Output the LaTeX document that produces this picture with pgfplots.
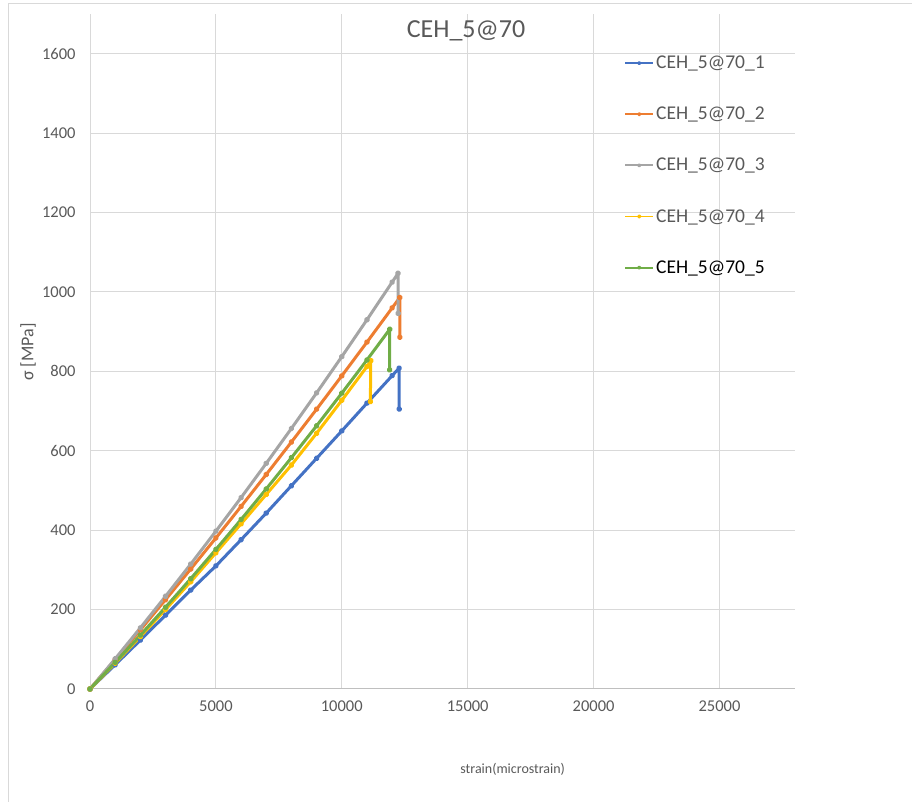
\documentclass[border=0pt]{standalone}
\usepackage{fontspec}
\setmainfont{Carlito}
\usepackage{pgfplots}
\pgfplotsset{compat=1.18}
\definecolor{gridc}{HTML}{D9D9D9}
\definecolor{axc}{HTML}{BFBFBF}
\definecolor{txtc}{HTML}{595959}
\definecolor{s1}{HTML}{4472C4}
\definecolor{s2}{HTML}{ED7D31}
\definecolor{s3}{HTML}{A5A5A5}
\definecolor{s4}{HTML}{FFC000}
\definecolor{s5}{HTML}{70AD47}
\begin{document}
\begin{tikzpicture}
\draw[gridc, line width=1bp] (8bp,0) -- (8bp,798bp) -- (912bp,798bp);
\begin{axis}[
  at={(90bp,113bp)}, anchor=south west,
  scale only axis, width=705bp, height=675bp,
  xmin=0, xmax=28000, ymin=0, ymax=1700,
  xtick={0,5000,10000,15000,20000,25000},
  ytick={0,200,400,600,800,1000,1200,1400,1600},
  grid=major,
  major grid style={draw=gridc, line width=1bp},
  axis x line*=bottom, axis y line*=left,
  x axis line style={draw=axc, line width=1bp, -},
  y axis line style={draw=gridc, line width=1bp, -},
  major tick length=0pt,
  tick label style={font=\fontsize{16.5bp}{19bp}\selectfont, text=txtc},
  yticklabel style={xshift=-11bp},
  xticklabel style={yshift=-8bp},
  scaled ticks=false,
  /pgf/number format/1000 sep={},
  /pgf/number format/assume math mode=true,
  every axis plot/.append style={line width=3bp, line join=round, mark=*, mark size=1.5bp},
  legend cell align=left,
  legend style={draw=none, fill=none, at={(0.7577,0.941)}, anchor=north west,
    font=\fontsize{19.5bp}{22bp}\selectfont, text=txtc, row sep=33bp, inner sep=0pt},
  legend image code/.code={\draw[mark repeat=2,mark phase=2,#1] plot coordinates {(0bp,0bp) (14bp,0bp) (28bp,0bp)};},
  legend image post style={line width=1.8bp, mark size=1.2bp},
]
\addplot[color=s1, mark options={fill=s1}] coordinates {
 (0,0) (1000,61) (2000,123) (3000,186) (4000,249) (5000,310) (6000,376) (7000,443)
 (8000,512) (9000,581) (10000,650) (11000,719.9) (12000,789.1) (12276,808) (12280,705)};
\addlegendentry{CEH\_5@70\_1}
\addplot[color=s2, mark options={fill=s2}] coordinates {
 (0,0) (1000,73.9) (2000,148.8) (3000,224.9) (4000,302.1) (5000,380.4) (6000,459.8) (7000,540.3)
 (8000,622.0) (9000,704.7) (10000,788.6) (11000,873.6) (12000,959.7) (12302,986) (12305,886)};
\addlegendentry{CEH\_5@70\_2}
\addplot[color=s3, mark options={fill=s3}] coordinates {
 (0,0) (1000,76.1) (2000,154.0) (3000,233.5) (4000,314.6) (5000,397.5) (6000,482.0) (7000,568.3)
 (8000,656.2) (9000,745.7) (10000,837) (11000,929.9) (12000,1024.6) (12234,1047) (12240,946)};
\addlegendentry{CEH\_5@70\_3}
\addplot[color=s4, mark options={fill=s4}] coordinates {
 (0,0) (1000,65) (2000,132) (3000,200) (4000,270) (5000,343) (6000,416) (7000,490)
 (8000,564) (9000,644) (10000,727) (11000,812) (11151,827) (11135,724)};
\addlegendentry{CEH\_5@70\_4}
\addplot[color=s5, mark options={fill=s5}] coordinates {
 (0,0) (1000,66.9) (2000,135.6) (3000,205.9) (4000,277.8) (5000,351.5) (6000,426.8) (7000,503.9)
 (8000,582.6) (9000,662.9) (10000,745) (11000,828.7) (11905,906) (11900,804)};
\addlegendentry{\textcolor{black}{CEH\_5@70\_5}}
\end{axis}
\node[text=txtc, font=\fontsize{26bp}{30bp}\selectfont] at (466bp,771bp) {CEH\_5@70};
\node[text=txtc, rotate=90, font=\fontsize{18bp}{21bp}\selectfont] at (28bp,450bp) {σ [MPa]};
\node[text=txtc, font=\fontsize{14bp}{17bp}\selectfont] at (512.7bp,33bp) {strain(microstrain)};
\pgfresetboundingbox
\useasboundingbox (0,0) rectangle (912bp,802bp);
\end{tikzpicture}
\end{document}
